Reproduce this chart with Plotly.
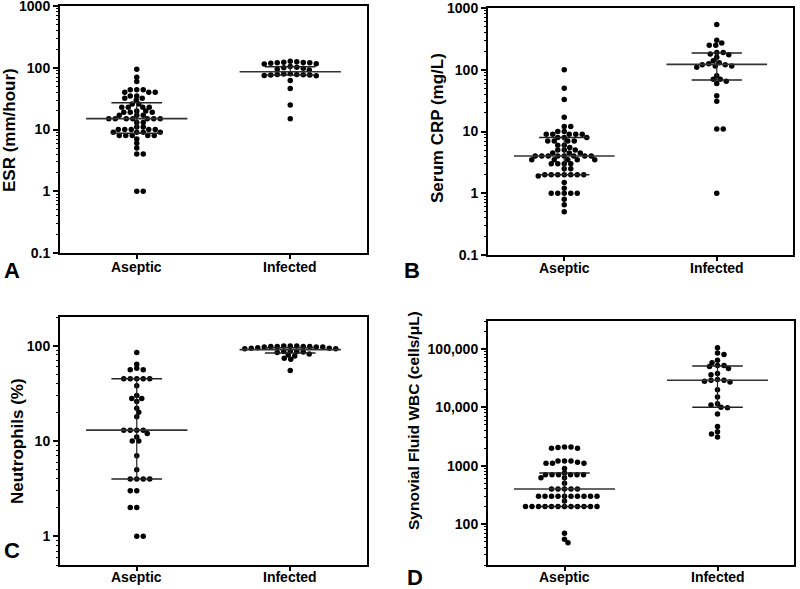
import numpy as np
import plotly.graph_objects as go

W, H = 800, 589
groups = ["Aseptic", "Infected"]

# values (log scale plots)
esr_aseptic = [95, 70, 60, 44, 44, 44, 40, 40, 40, 35, 35, 32, 32, 30, 26, 26, 23, 23, 23, 23,
               20, 20, 19, 19, 19, 17, 17, 17, 15, 15, 15, 15, 15, 15, 15, 13, 13, 11, 11,
               10, 10, 10, 10, 10, 9, 9, 9, 9, 8, 8, 8, 8, 8, 7, 6, 5, 4, 4, 1, 1]
esr_infected = [128, 125, 123, 122, 120, 120, 118, 116, 115, 105, 102, 100, 98, 95, 92,
                80, 79, 78, 78, 77, 76, 76, 75, 74, 62, 46, 25, 15]

crp_aseptic = [100, 50, 33, 17, 12, 12, 10, 10, 9, 9, 9, 9, 9, 8, 8, 8, 7, 7, 7, 7, 6, 6, 5.5,
               5, 5, 5, 4.5, 4.5, 4.5, 4, 4, 4, 4, 4, 4, 4, 4, 3.5, 3.5, 3.5, 3.5, 3.5,
               3, 3, 3, 3, 2.5, 2.5, 2, 2, 2, 2, 2, 2, 2, 1.9, 1.5, 1.2, 1, 1, 1, 1, 1,
               0.8, 0.65, 0.5]
crp_infected = [540, 300, 270, 250, 250, 190, 190, 180, 175, 160, 140, 130, 125, 120, 120,
                115, 115, 110, 80, 70, 70, 65, 60, 38, 31, 11, 11, 1]

neut_aseptic = [85, 64, 58, 56, 56, 45, 45, 45, 45, 45, 38, 30, 28, 28, 26, 22, 20, 18,
                13, 13, 13, 13, 12, 11, 10, 10, 7, 5, 4, 4, 4, 4, 3, 3, 2, 2, 1, 1]
neut_infected = [99, 99, 99, 98, 98, 98, 98, 97, 97, 97, 95, 94, 94, 93, 93,
                 88, 87, 87, 86, 85, 82, 80, 78, 74, 72, 55]

wbc_aseptic = [2100, 2100, 2050, 2000, 2000, 1200, 1200, 1200, 1150, 1100, 1100, 1100, 900,
               750, 700, 700, 700, 700, 700, 700, 620, 620, 500, 400, 400, 400, 400, 400,
               300, 300, 300, 300, 300, 300, 300, 300, 300, 300, 250,
               200, 200, 200, 200, 200, 200, 200, 200, 200, 200, 200, 200, 70, 55, 48]
wbc_infected = [105000, 85000, 80000, 64000, 58000, 52000, 52000, 50000, 46000, 38000,
                36000, 30000, 29000, 29000, 28000, 27000, 20000, 15000, 11500, 11000,
                10000, 9800, 7700, 4700, 3800, 3500, 3100]

# (median, q1, q3) for each group
esr_stats = [(15, 8.7, 27), (86, 76, 104)]
crp_stats = [(4, 2, 8), (122, 68, 187)]
neut_stats = [(13, 4, 45), (91, 84, 95)]
wbc_stats = [(400, 200, 750), (29000, 10000, 51000)]

esr_ticks = [0.1, 1, 10, 100, 1000]
esr_labels = ["0.1", "1", "10", "100", "1000"]
neut_ticks = [1, 10, 100]
neut_labels = ["1", "10", "100"]
wbc_ticks = [100, 1000, 10000, 100000]
wbc_labels = ["100", "1000", "10,000", "100,000"]

panels = [
    dict(letter="A", title="ESR (mm/hour)", data=[esr_aseptic, esr_infected], stats=esr_stats,
         xpx=(60, 367), ypx=(6, 253), yr=(0.1, 1000), tv=esr_ticks, tt=esr_labels,
         tx=10, ty=130, ts=17, lpos=(12, 270), cy=267),
    dict(letter="B", title="Serum CRP (mg/L)", data=[crp_aseptic, crp_infected], stats=crp_stats,
         xpx=(488, 793), ypx=(8, 255), yr=(0.1, 1000), tv=esr_ticks, tt=esr_labels,
         tx=437, ty=128, ts=17, lpos=(412, 270), cy=268),
    dict(letter="C", title="Neutrophils (%)", data=[neut_aseptic, neut_infected], stats=neut_stats,
         xpx=(60, 367), ypx=(317, 565), yr=(0.5, 200), tv=neut_ticks, tt=neut_labels,
         tx=17, ty=441, ts=17, lpos=(12, 550), cy=577),
    dict(letter="D", title="Synovial Fluid WBC (cells/\u03bcL)", data=[wbc_aseptic, wbc_infected],
         stats=wbc_stats, xpx=(488, 794), ypx=(321, 565), yr=(20, 300000), tv=wbc_ticks,
         tt=wbc_labels, tx=413, ty=421, ts=15.5, lpos=(415, 577), cy=577),
]


def swarm(values, xscale, yscale, d=6.5, k=1.6, step=0.5):
    # beeswarm in pixel space (vertical clearance reduced by k), returns x offsets in axis units
    ys = np.log10(np.array(values, dtype=float)) * yscale
    order = np.argsort(-ys, kind="stable")
    placed = []
    xs = np.zeros(len(values))
    for i in order:
        y = ys[i]
        j = 0
        while True:
            if j == 0:
                cands = [0.0]
            else:
                side = -1 if sum(p[0] for p in placed) > 0 else 1
                cands = [side * j * step, -side * j * step]
            ok = None
            for c in cands:
                if all((c - px) ** 2 + (k * (y - py)) ** 2 >= d * d for px, py in placed):
                    ok = c
                    break
            if ok is not None:
                xs[i] = ok
                placed.append((ok, y))
                break
            j += 1
    return xs / xscale


fig = go.Figure()
layout = dict(width=W, height=H, margin=dict(l=0, r=0, t=0, b=0, autoexpand=False),
              paper_bgcolor="white", plot_bgcolor="white", showlegend=False,
              annotations=[])
bold = dict(family="Liberation Sans, Arial, sans-serif", size=14, color="black", weight="bold")

for n, p in enumerate(panels):
    sfx = "" if n == 0 else str(n + 1)
    x0, x1 = p["xpx"]
    y0, y1 = p["ypx"]
    lo, hi = np.log10(p["yr"][0]), np.log10(p["yr"][1])
    xscale = (x1 - x0) / 2.0
    yscale = (y1 - y0) / (hi - lo)

    for g, vals in enumerate(p["data"]):
        off = swarm(vals, xscale, yscale)
        fig.add_trace(go.Scatter(x=g + off, y=vals, mode="markers",
                                 marker=dict(size=5.5, color="black"),
                                 xaxis="x" + sfx, yaxis="y" + sfx))
        med, q1, q3 = p["stats"][g]
        fig.add_trace(go.Scatter(x=[g - 0.33, g + 0.33], y=[med, med], mode="lines",
                                 line=dict(color="#333", width=1.6),
                                 xaxis="x" + sfx, yaxis="y" + sfx))
        for q in (q1, q3):
            fig.add_trace(go.Scatter(x=[g - 0.165, g + 0.165], y=[q, q], mode="lines",
                                     line=dict(color="#222", width=1.5),
                                     xaxis="x" + sfx, yaxis="y" + sfx))
        fig.add_trace(go.Scatter(x=[g, g], y=[q1, q3], mode="lines",
                                 line=dict(color="#222", width=1.2),
                                 xaxis="x" + sfx, yaxis="y" + sfx))

    # minor ticks at 2..9 of every decade inside the range
    minor_vals = [m * 10.0 ** e for e in range(int(np.floor(lo)), int(np.ceil(hi)) + 1)
                  for m in range(2, 10) if lo <= np.log10(m * 10.0 ** e) <= hi]

    layout["xaxis" + sfx] = dict(domain=[x0 / W, x1 / W], anchor="y" + sfx, range=[-0.5, 1.5],
                                 tickmode="array", tickvals=[0, 1], showticklabels=False,
                                 ticks="outside", ticklen=4, tickwidth=1.5, tickcolor="black",
                                 showline=True, linewidth=2, linecolor="black", mirror=True,
                                 showgrid=False, zeroline=False, automargin=False)
    layout["yaxis" + sfx] = dict(domain=[1 - y1 / H, 1 - y0 / H], anchor="x" + sfx, type="log",
                                 range=[lo - 1e-6, hi + 1e-6], tickmode="array", tickvals=p["tv"],
                                 ticktext=p["tt"], ticks="outside", ticklen=5, tickwidth=1.5,
                                 tickcolor="black", showline=True, linewidth=2,
                                 linecolor="black", mirror=True, showgrid=False,
                                 zeroline=False, tickfont=bold, ticklabeloverflow="allow",
                                 automargin=False,
                                 minor=dict(tickmode="array", tickvals=minor_vals,
                                            ticks="outside", ticklen=2, tickwidth=1,
                                            tickcolor="black", showgrid=False))
    for g, name in enumerate(groups):
        layout["annotations"].append(dict(text=name, xref="x" + sfx, yref="paper", x=g,
                                          y=1 - p["cy"] / H, showarrow=False,
                                          xanchor="center", yanchor="middle", font=bold))
    layout["annotations"].append(dict(text=p["title"], textangle=-90, xref="paper", yref="paper",
                                      x=p["tx"] / W, y=1 - p["ty"] / H, showarrow=False,
                                      xanchor="center", yanchor="middle",
                                      font=dict(bold, size=p["ts"])))
    layout["annotations"].append(dict(text=p["letter"], xref="paper", yref="paper",
                                      x=p["lpos"][0] / W, y=1 - p["lpos"][1] / H, showarrow=False,
                                      xanchor="center", yanchor="middle",
                                      font=dict(bold, size=22)))

fig.update_layout(**layout)
fig.write_html("out.html", config={"displayModeBar": False},
               post_script="document.body.style.margin='0px';")
